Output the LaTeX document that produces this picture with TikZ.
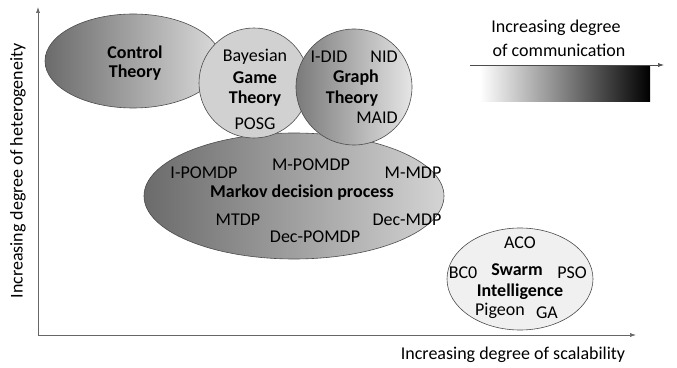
\documentclass[tikz,border=0pt]{standalone}
\usepackage{fontspec}
\setmainfont{Carlito}
\usetikzlibrary{shapes.geometric,arrows.meta}

\begin{document}
\begin{tikzpicture}[x=1pt,y=1pt,
		blob/.style={ellipse,draw=black!70,line width=0.6pt,inner sep=0pt},
		lbl/.style={font=\fontsize{18}{20}\selectfont},
		blbl/.style={font=\fontsize{18}{20}\selectfont\bfseries},
		axis/.style={draw=black!60,line width=0.6pt,-{Latex[length=6pt,width=4pt]}}]
		\useasboundingbox (0,0) rectangle (677,367);

		\coordinate (O) at (38,32);
		\coordinate (Ytop) at (38,360);
		\coordinate (Xend) at (636,32);
		\draw[axis] (O) -- (Ytop);
		\draw[axis] (O) -- (Xend);
		\node[lbl,rotate=90] (ylab) at (18,196) {Increasing degree of heterogeneity};
		\node[lbl] (xlab) at (513,12) {Increasing degree of scalability};

		\node[blob,minimum width=176pt,minimum height=94pt,left color=black!58,right color=black!14] (control) at (133,306) {};
		\node[blob,minimum width=300pt,minimum height=126pt,left color=black!58,right color=black!17] (mdp) at (294,171) {};
		\node[blob,circle,minimum size=110pt,fill=black!18] (game) at (254,284) {};
		\node[blob,circle,minimum size=116pt,left color=black!52,right color=black!10] (graph) at (354,280) {};
		\node[blob,minimum width=146pt,minimum height=102pt,fill=black!6] (swarm) at (520,88) {};

		\node[blbl] (ct1) at (135,315) {Control};
		\node[blbl] (ct2) at (135,294) {Theory};

		\node[lbl] (bayes) at (255,310) {Bayesian};
		\node[blbl] (gt1) at (255,289) {Game};
		\node[blbl] (gt2) at (255,268) {Theory};
		\node[lbl] (posg) at (255,243) {POSG};

		\node[lbl] (idid) at (329,310) {I-DID};
		\node[lbl] (nid) at (384,310) {NID};
		\node[blbl] (gr1) at (356,289) {Graph};
		\node[blbl] (gr2) at (352,268) {Theory};
		\node[lbl] (maid) at (377,249) {MAID};

		\node[lbl] (ipomdp) at (204,194) {I-POMDP};
		\node[lbl] (mpomdp) at (311,202) {M-POMDP};
		\node[lbl] (mmdp) at (413,194) {M-MDP};
		\node[blbl] (markov) at (302,174) {Markov decision process};
		\node[lbl] (mtdp) at (238,147) {MTDP};
		\node[lbl] (decpomdp) at (315,130) {Dec-POMDP};
		\node[lbl] (decmdp) at (407,147) {Dec-MDP};

		\node[lbl] (aco) at (520,124) {ACO};
		\node[lbl] (bco) at (463,94) {BC0};
		\node[blbl] (sw1) at (517,97) {Swarm};
		\node[lbl] (pso) at (572,94) {PSO};
		\node[blbl] (sw2) at (520,75) {Intelligence};
		\node[lbl] (pigeon) at (500,56) {Pigeon};
		\node[lbl] (ga) at (547,54) {GA};

		\node[lbl] (com1) at (556,339) {Increasing degree};
		\node[lbl] (com2) at (559,317) {of communication};
		\node[minimum width=170pt,minimum height=35pt,inner sep=0pt,left color=white,right color=black] (bar) at (565,282.5) {};
		\coordinate (Cstart) at (470,302);
		\coordinate (Cend) at (664,302);
		\draw[axis,draw=black!70] (Cstart) -- (Cend);
	\end{tikzpicture}
\end{document}
